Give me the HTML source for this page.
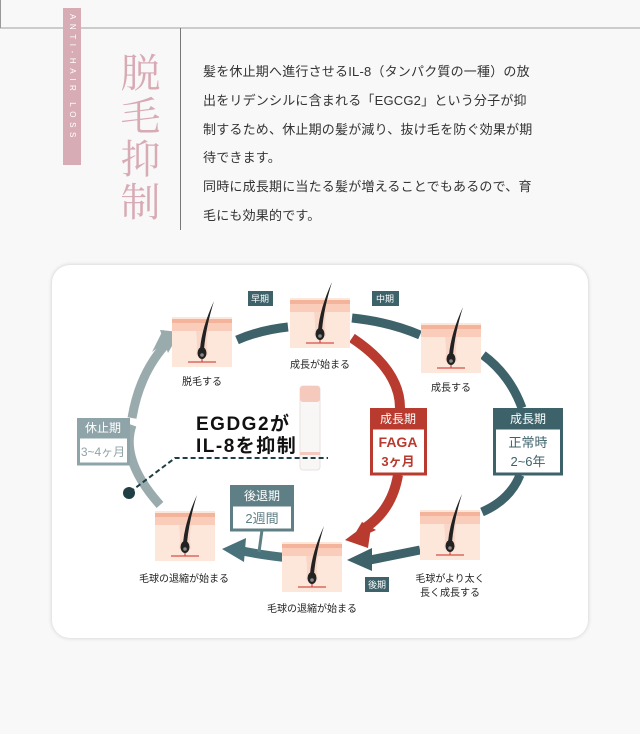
<!DOCTYPE html>
<html><head><meta charset="utf-8"><style>
body{margin:0;width:640px;height:734px;background:#f8f8f8;overflow:hidden;position:relative;font-family:"Liberation Sans","Noto Sans CJK JP",sans-serif}
.p{position:absolute;left:203px;top:58px;font-size:13px;line-height:28.8px;color:#333;white-space:nowrap;letter-spacing:0.2px}
</style></head><body>
<div style="position:absolute;left:0;top:27px;width:640px;height:2px;background:#ccc"></div>
<div style="position:absolute;left:0;top:0;width:1px;height:28px;background:#999"></div>
<div style="position:absolute;left:63px;top:8px;width:18px;height:157px;background:#d7acb5"></div>
<div style="position:absolute;left:64px;top:14px;width:16px;height:150px;writing-mode:vertical-rl;color:#fff;font-size:8px;letter-spacing:4.6px;line-height:16px">ANTI-HAIR LOSS</div>
<div style="position:absolute;left:117px;top:52px;width:46px;font-family:'Noto Serif CJK SC',serif;font-size:40px;line-height:46px;letter-spacing:3px;color:#d8aab4;writing-mode:vertical-rl">脱毛抑制</div>
<div style="position:absolute;left:180px;top:28px;width:1px;height:202px;background:#777"></div>
<div class="p">髪を休止期へ進行させるIL-8（タンパク質の一種）の放<br>出をリデンシルに含まれる「EGCG2」という分子が抑<br>制するため、休止期の髪が減り、抜け毛を防ぐ効果が期<br>待できます。<br>同時に成長期に当たる髪が増えることでもあるので、育<br>毛にも効果的です。</div>
<div style="position:absolute;left:52px;top:265px;width:536px;height:373px;background:#fff;border-radius:18px;box-shadow:0 0 4px rgba(0,0,0,.18)"></div>
<svg width="640" height="734" style="position:absolute;left:0;top:0" font-family="Liberation Sans,Noto Sans CJK JP,sans-serif">
<defs>
<g id="t"><rect x="0" y="0" width="60" height="50" fill="#fde6da"/><rect x="0" y="2" width="60" height="4" fill="#f4b49c"/><rect x="0" y="6" width="60" height="8" fill="#f9cdb9"/><path d="M24 14 Q26 30 24 38 L36 38 Q34 30 36 14Z" fill="#f9d7c8"/><line x1="16" y1="45" x2="44" y2="45" stroke="#d4524a" stroke-width="1.3"/><line x1="30" y1="45" x2="30" y2="40" stroke="#d4524a" stroke-width="1.3"/><ellipse cx="30" cy="36" rx="4.5" ry="6" fill="#222"/><circle cx="30" cy="38" r="1.8" fill="#888"/><path d="M28 32 Q30 10 42 -16 Q34 10 32 32Z" fill="#222"/></g>
</defs>
<g fill="none" stroke-width="9">
<path d="M160 505 Q120 460 132 425" stroke="#9aabae"/>
<path d="M132 418 Q140 370 170 340" stroke="#9aabae"/>
<path d="M237 340 Q260 330 288 327" stroke="#3d626a"/>
<path d="M352 318 Q390 322 420 335" stroke="#3d626a"/>
<path d="M483 355 Q510 375 522 408" stroke="#3d626a"/>
<path d="M520 475 Q510 500 482 512" stroke="#3d626a"/>
<path d="M420 550 Q390 556 370 560" stroke="#3d626a"/>
<path d="M290 558 Q260 555 238 550" stroke="#49727a"/>
<path d="M352 338 Q400 370 400 408" stroke="#b93a2e" stroke-width="10"/>
<path d="M398 475 Q392 510 365 528" stroke="#b93a2e" stroke-width="10"/>
<line x1="262" y1="530" x2="259" y2="552" stroke="#5f7f86" stroke-width="3"/>
</g>
<polygon points="175,335 152,352 163,330" fill="#9aabae"/>
<polygon points="160,330 180,332 168,353" fill="#9aabae"/>
<polygon points="350,542 376,530 362,522" fill="#b93a2e"/>
<polygon points="345,540 372,520 368,548" fill="#b93a2e"/>
<polygon points="347,560 372,548 372,571" fill="#3d626a"/>
<polygon points="222,549 246,538 244,562" fill="#49727a"/>
<use href="#t" x="172" y="317"/><use href="#t" x="290" y="298"/><use href="#t" x="421" y="323"/>
<use href="#t" x="420" y="510"/><use href="#t" x="282" y="542"/><use href="#t" x="155" y="511"/>
<g font-size="10" fill="#222" text-anchor="middle">
<text x="202" y="385">脱毛する</text><text x="320" y="368">成長が始まる</text><text x="451" y="391">成長する</text>
<text x="450" y="582">毛球がより太く</text><text x="450" y="596">長く成長する</text>
<text x="312" y="612">毛球の退縮が始まる</text><text x="184" y="582">毛球の退縮が始まる</text>
</g>
<g font-size="9" fill="#fff" text-anchor="middle">
<rect x="248" y="291" width="25" height="15" fill="#3d626a"/><text x="260" y="302">早期</text>
<rect x="372" y="291" width="27" height="15" fill="#3d626a"/><text x="385" y="302">中期</text>
<rect x="365" y="577" width="24" height="15" fill="#3d626a"/><text x="377" y="588">後期</text>
</g>
<rect x="77" y="418" width="53" height="19" fill="#8fa4a8"/><rect x="78.5" y="437" width="50" height="27" fill="#fff" stroke="#8fa4a8" stroke-width="3"/>
<text x="103" y="432" font-size="12" fill="#fff" text-anchor="middle">休止期</text><text x="103" y="456" font-size="12" fill="#8fa4a8" text-anchor="middle">3~4ヶ月</text>
<rect x="370" y="408" width="57" height="20" fill="#b93a2e"/><rect x="371.5" y="428" width="54" height="46" fill="#fff" stroke="#b93a2e" stroke-width="3"/>
<text x="398" y="423" font-size="12" fill="#fff" text-anchor="middle">成長期</text><text x="398" y="447" font-size="14" font-weight="bold" fill="#b93a2e" text-anchor="middle">FAGA</text><text x="398" y="466" font-size="13" font-weight="bold" fill="#b93a2e" text-anchor="middle">3ヶ月</text>
<rect x="493" y="408" width="70" height="20" fill="#3d626a"/><rect x="494.5" y="428" width="67" height="46" fill="#fff" stroke="#3d626a" stroke-width="3"/>
<text x="528" y="423" font-size="12" fill="#fff" text-anchor="middle">成長期</text><text x="528" y="447" font-size="13" fill="#3d626a" text-anchor="middle">正常時</text><text x="528" y="466" font-size="13" fill="#3d626a" text-anchor="middle">2~6年</text>
<rect x="230" y="485" width="64" height="20" fill="#5f7f86"/><rect x="231.5" y="505" width="61" height="25" fill="#fff" stroke="#5f7f86" stroke-width="3"/>
<text x="262" y="500" font-size="12" fill="#fff" text-anchor="middle">後退期</text><text x="262" y="523" font-size="13" fill="#5f7f86" text-anchor="middle">2週間</text>
<text x="196" y="430" font-size="19" font-weight="bold" fill="#111" letter-spacing="1.5">EGDG2が</text>
<text x="196" y="452" font-size="19" font-weight="bold" fill="#111" letter-spacing="1.5">IL-8を抑制</text>
<rect x="300" y="386" width="20" height="84" rx="3" fill="#f9f7f6" stroke="#e8e2df"/><rect x="300" y="386" width="20" height="16" rx="3" fill="#f5cabd"/><rect x="300" y="452" width="20" height="3" fill="#f5c8c0"/>
<polyline points="130,492 175,458 328,458" fill="none" stroke="#1f3f45" stroke-width="2" stroke-dasharray="5,3"/>
<circle cx="129" cy="493" r="6" fill="#1f3f45"/>
</svg>
</body></html>
